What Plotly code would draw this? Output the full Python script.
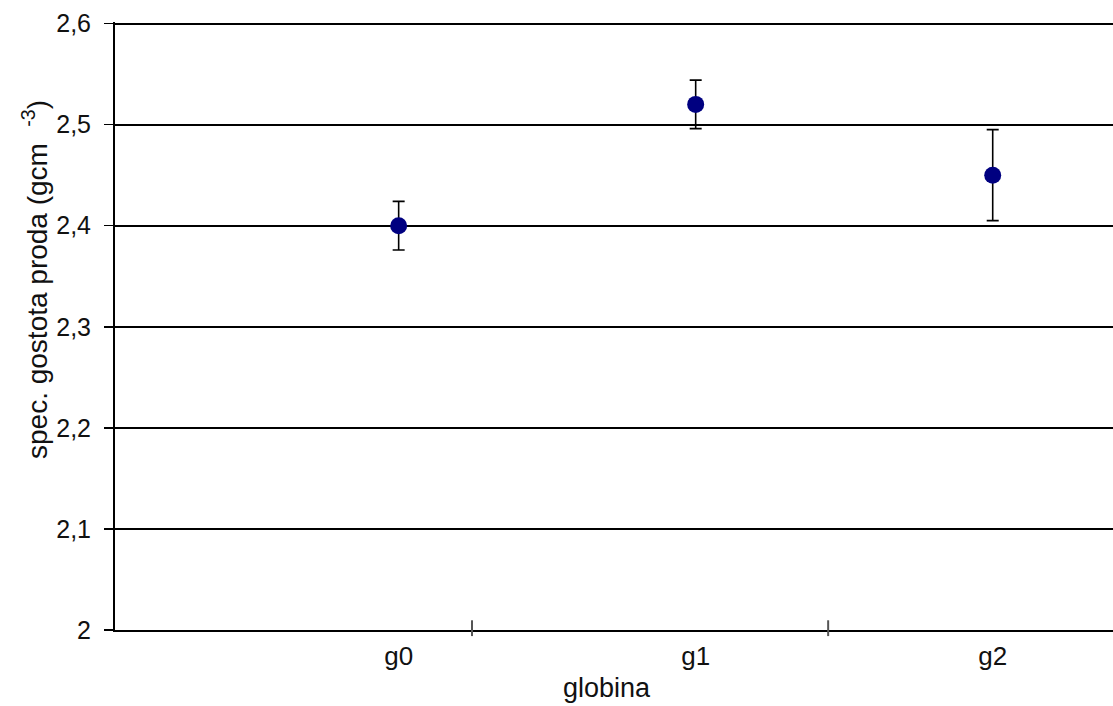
import plotly.graph_objects as go

categories = ["g0", "g1", "g2"]
density = [2.40, 2.52, 2.45]
err = [0.024, 0.024, 0.045]
y_title = "spec. gostota proda (gcm<sup>   -3</sup>)"
x_title = "globina"

idx = list(range(len(categories)))
FONT = "Liberation Sans, Arial, sans-serif"

W, H = 1113, 706
L, T = 115, 22
PB = 630
PW = W - L
PH = PB - T

fig = go.Figure()
fig.add_trace(go.Scatter(
    x=idx, y=density, mode="markers",
    marker=dict(color="#000080", size=17, line=dict(width=0)),
    error_y=dict(type="data", array=err, visible=True, color="black",
                 thickness=1.6, width=6),
    showlegend=False, cliponaxis=False,
))

for b in [0.247, 1.446]:
    fig.add_shape(type="line", xref="x", yref="paper", x0=b, x1=b,
                  y0=-0.01, y1=0.016, line=dict(color="#555", width=2))

fig.update_layout(
    width=W, height=H,
    margin=dict(l=L, r=0, t=T, b=H - PB, pad=0),
    paper_bgcolor="white", plot_bgcolor="white",
    separators=", ",
    font=dict(family=FONT, size=24, color="#111"),
    xaxis=dict(range=[-0.955, 2.405], tickvals=idx, ticktext=categories,
               showgrid=False, zeroline=False, showline=True,
               linecolor="black", linewidth=2, ticks="",
               tickfont=dict(size=26), ticklabelstandoff=2),
    yaxis=dict(range=[2.0, 2.6015], dtick=0.1, tick0=2.0,
               showgrid=True, gridcolor="black", gridwidth=2,
               zeroline=False, showline=True, linecolor="black", linewidth=2,
               ticks="outside", ticklen=9, tickcolor="black", tickwidth=1.5,
               tickfont=dict(size=25), ticklabelstandoff=8,
               ticklabeloverflow="allow"),
)

fig.add_annotation(text=x_title, xref="paper", yref="paper",
                   x=(607 - 115) / PW, y=-(688 - 630) / PH, showarrow=False,
                   yanchor="middle", font=dict(size=27))
fig.add_annotation(text=y_title, xref="paper", yref="paper",
                   x=(35 - 115) / PW, y=(630 - 280) / PH, showarrow=False,
                   textangle=-90, xanchor="center", yanchor="middle",
                   font=dict(size=28))

fig.write_html(
    "out.html",
    config={"displayModeBar": False, "staticPlot": True},
    post_script="document.body.style.margin='0';"
                "document.body.style.overflow='hidden';",
)
